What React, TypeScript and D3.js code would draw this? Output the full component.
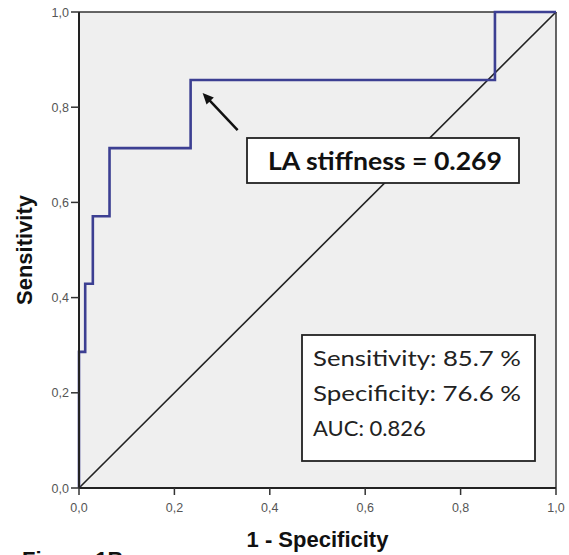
import React from "react";
import * as d3 from "d3";

const fprValues = [0, 0, 0.013, 0.013, 0.029, 0.029, 0.064, 0.064, 0.234, 0.234, 0.872, 0.872, 1];
const tprValues = [0, 0.286, 0.286, 0.429, 0.429, 0.571, 0.571, 0.714, 0.714, 0.857, 0.857, 1, 1];
const tickValues = [0, 0.2, 0.4, 0.6, 0.8, 1.0];
const tickLabels = ["0,0", "0,2", "0,4", "0,6", "0,8", "1,0"];
const cutoffLabel = "LA stiffness = 0.269";
const statLines = ["Sensitivity: 85.7 %", "Specificity: 76.6 %", "AUC: 0.826"];
const cutoffPoint = { fpr: 0.234, tpr: 0.857 };

const W = 569;
const H = 555;
const M = { left: 79, right: 13, top: 12, bottom: 67 };

export default function App() {
  const x = d3.scaleLinear().domain([0, 1]).range([M.left, W - M.right]);
  const y = d3.scaleLinear().domain([0, 1]).range([H - M.bottom, M.top]);
  const pts: [number, number][] = fprValues.map((f, i) => [f, tprValues[i]]);
  const line = d3
    .line<[number, number]>()
    .x((d) => x(d[0]))
    .y((d) => y(d[1]));
  const diag = line([
    [0, 0],
    [1, 1],
  ]) as string;

  const ax = x(cutoffPoint.fpr) + 12;
  const ay = y(cutoffPoint.tpr) + 13;
  const tx = ax + 35;
  const ty = ay + 37;
  const ang = Math.atan2(ay - ty, ax - tx);
  const hl = 11;
  const hw = 5;
  const head = [
    [ax, ay],
    [ax - hl * Math.cos(ang) + hw * Math.sin(ang), ay - hl * Math.sin(ang) - hw * Math.cos(ang)],
    [ax - hl * Math.cos(ang) - hw * Math.sin(ang), ay - hl * Math.sin(ang) + hw * Math.cos(ang)],
  ]
    .map((p) => p.join(","))
    .join(" ");

  return (
    <svg
      width={W}
      height={H}
      style={{ position: "absolute", left: 0, top: 0, background: "#fff" }}
      fontFamily="Liberation Sans, Arial, sans-serif"
    >
      <rect x={x(0)} y={y(1)} width={x(1) - x(0)} height={y(0) - y(1)} fill="#efefef" />
      {/* frame top/right */}
      <line x1={x(0)} x2={x(1)} y1={y(1)} y2={y(1)} stroke="#333" strokeWidth={1.5} />
      <line x1={x(1)} x2={x(1)} y1={y(1)} y2={y(0)} stroke="#333" strokeWidth={1.5} />
      {/* diagonal */}
      <path d={diag} stroke="#222" strokeWidth={1.6} fill="none" />
      {/* ROC curve */}
      <path d={line(pts) as string} stroke="#3c3f92" strokeWidth={2.6} fill="none" strokeLinejoin="miter" />
      {/* axes */}
      <line x1={x(0)} x2={x(1)} y1={y(0)} y2={y(0)} stroke="#222" strokeWidth={2} />
      <line x1={x(0)} x2={x(0)} y1={y(0)} y2={y(1)} stroke="#222" strokeWidth={2} />
      {tickValues.map((t, i) => (
        <g key={"x" + i}>
          <line x1={x(t)} x2={x(t)} y1={y(0)} y2={y(0) + 7} stroke="#333" strokeWidth={1.5} />
          <text x={x(t)} y={y(0) + 24} textAnchor="middle" fontSize={12.5} fill="#555">
            {tickLabels[i]}
          </text>
        </g>
      ))}
      {tickValues.map((t, i) => (
        <g key={"y" + i}>
          <line x1={x(0) - 8} x2={x(0)} y1={y(t)} y2={y(t)} stroke="#333" strokeWidth={1.5} />
          <text x={x(0) - 10} y={y(t) + 4.5} textAnchor="end" fontSize={12.5} fill="#555">
            {tickLabels[i]}
          </text>
        </g>
      ))}
      {/* axis titles */}
      <text
        transform={`translate(32, ${(y(0) + y(1)) / 2}) rotate(-90)`}
        textAnchor="middle"
        fontSize={22}
        fontWeight="bold"
        fill="#111"
      >
        Sensitivity
      </text>
      <text x={(x(0) + x(1)) / 2} y={547} textAnchor="middle" fontSize={22} fontWeight="bold" fill="#111">
        1 - Specificity
      </text>
      <text x={22} y={567} fontSize={22} fontWeight="bold" fill="#111">
        Figure 1B
      </text>
      {/* arrow */}
      <line x1={tx} y1={ty} x2={ax - 6 * Math.cos(ang)} y2={ay - 6 * Math.sin(ang)} stroke="#111" strokeWidth={2.5} />
      <polygon points={head} fill="#111" />
      {/* cutoff box */}
      <rect x={247} y={138} width={272} height={45} fill="#fff" stroke="#222" strokeWidth={1.8} />
      <text x={268} y={170} fontSize={25} fontWeight="bold" fill="#111" fontFamily="Lato, Liberation Sans, sans-serif" textLength={234} lengthAdjust="spacingAndGlyphs">
        {cutoffLabel}
      </text>
      {/* stats box */}
      <rect x={302} y={335} width={233} height={126} fill="#fff" stroke="#222" strokeWidth={1.8} />
      {statLines.map((s, i) => (
        <text
          key={i}
          x={313}
          y={366 + i * 35}
          fontSize={22}
          fill="#222"
          fontFamily="Lato, Liberation Sans, sans-serif"
          {...(i < 2 ? { textLength: 208, lengthAdjust: "spacingAndGlyphs" } : {})}
        >
          {s}
        </text>
      ))}
    </svg>
  );
}
